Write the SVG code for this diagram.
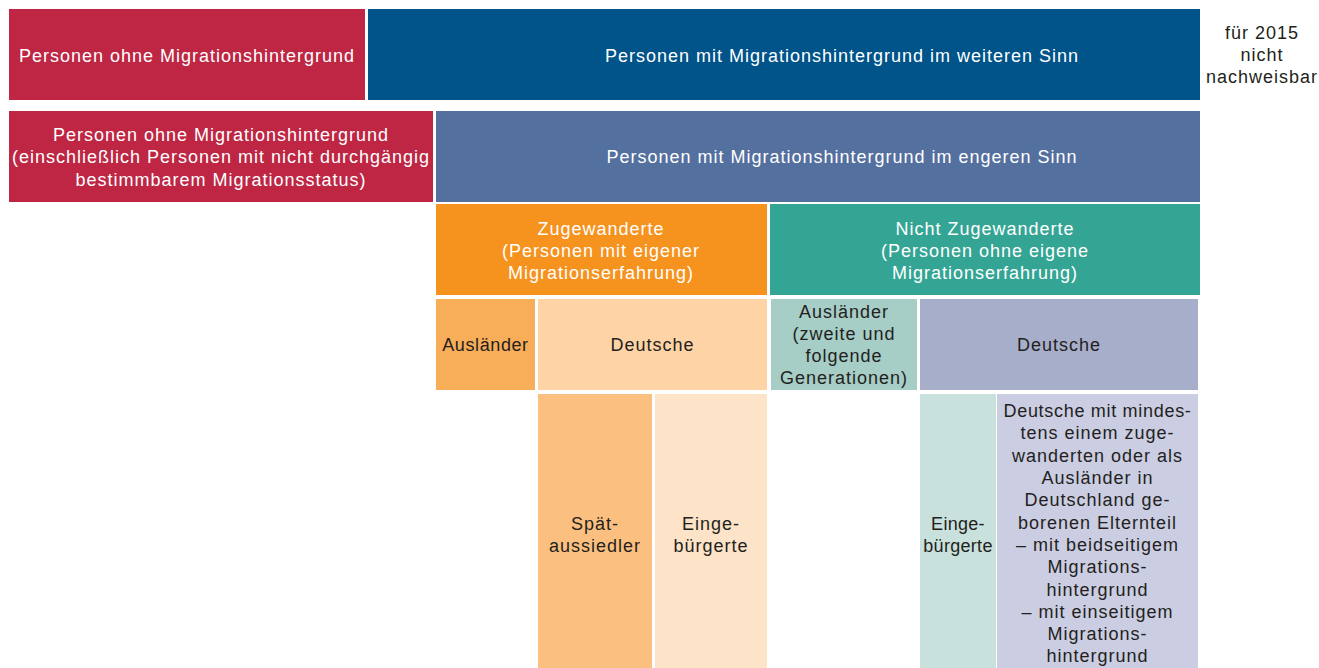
<svg xmlns="http://www.w3.org/2000/svg" width="1319" height="668" viewBox="0 0 1319 668">
<style>
text{font-family:"Liberation Sans",Arial,sans-serif;font-size:18px;letter-spacing:1px;text-anchor:middle}
.w{fill:#ffffff}
.d{fill:#231f20}
</style>
<rect x="0" y="0" width="1319" height="668" fill="#ffffff"/>
<g id="n-ohne1"><rect x="9" y="9" width="356" height="91" fill="#be2644"/><text class="w" x="187" y="62">Personen ohne Migrationshintergrund</text></g>
<g id="n-weiter"><rect x="368" y="9" width="832" height="91" fill="#00548a"/><text class="w" x="842" y="62">Personen mit Migrationshintergrund im weiteren Sinn</text></g>
<g id="n-note"><text class="d" x="1262" y="39">für 2015</text><text class="d" x="1262" y="61">nicht</text><text class="d" x="1262" y="83">nachweisbar</text></g>
<g id="n-ohne2"><rect x="9" y="111" width="424" height="91" fill="#be2644"/><text class="w" x="221" y="141">Personen ohne Migrationshintergrund</text><text class="w" x="221" y="163">(einschließlich Personen mit nicht durchgängig</text><text class="w" x="221" y="186">bestimmbarem Migrationsstatus)</text></g>
<g id="n-enger"><rect x="436" y="111" width="764" height="91" fill="#54709f"/><text class="w" x="842" y="163">Personen mit Migrationshintergrund im engeren Sinn</text></g>
<g id="n-zuge"><rect x="436" y="204" width="331" height="91" fill="#f6921e"/><text class="w" x="601" y="235">Zugewanderte</text><text class="w" x="601" y="257">(Personen mit eigener</text><text class="w" x="601" y="279">Migrationserfahrung)</text></g>
<g id="n-nichtzuge"><rect x="770" y="204" width="430" height="91" fill="#34a594"/><text class="w" x="985" y="235">Nicht Zugewanderte</text><text class="w" x="985" y="257">(Personen ohne eigene</text><text class="w" x="985" y="279">Migrationserfahrung)</text></g>
<g id="n-ausl1"><rect x="436" y="299" width="99" height="91" fill="#f8ad58"/><text class="d" x="485.5" y="351" style="letter-spacing:0.6px">Ausländer</text></g>
<g id="n-deu1"><rect x="538" y="299" width="229" height="91" fill="#fed3a5"/><text class="d" x="652.5" y="351">Deutsche</text></g>
<g id="n-ausl2"><rect x="771" y="299" width="146" height="91" fill="#a6cdc6"/><text class="d" x="844" y="318">Ausländer</text><text class="d" x="844" y="340">(zweite und</text><text class="d" x="844" y="362">folgende</text><text class="d" x="844" y="384">Generationen)</text></g>
<g id="n-deu2"><rect x="920" y="299" width="278" height="91" fill="#a7aeca"/><text class="d" x="1059" y="351">Deutsche</text></g>
<g id="n-spaet"><rect x="538" y="394" width="114" height="274" fill="#fbc07f"/><text class="d" x="595" y="530">Spät-</text><text class="d" x="595" y="552">aussiedler</text></g>
<g id="n-einge1"><rect x="655" y="394" width="112" height="274" fill="#fde3c7"/><text class="d" x="711" y="530">Einge-</text><text class="d" x="711" y="552">bürgerte</text></g>
<g id="n-einge2"><rect x="920" y="394" width="76" height="274" fill="#c9e1dc"/><text class="d" x="958" y="530" style="letter-spacing:0.3px">Einge-</text><text class="d" x="958" y="552" style="letter-spacing:0.3px">bürgerte</text></g>
<g id="n-deu3"><rect x="997" y="394" width="201" height="274" fill="#cbcde2"/>
<text class="d" x="1097.5" y="417" style="letter-spacing:0.7px">Deutsche mit mindes-</text>
<text class="d" x="1097.5" y="439">tens einem zuge-</text>
<text class="d" x="1097.5" y="462">wanderten oder als</text>
<text class="d" x="1097.5" y="484">Ausländer in</text>
<text class="d" x="1097.5" y="506">Deutschland ge-</text>
<text class="d" x="1097.5" y="529">borenen Elternteil</text>
<text class="d" x="1097.5" y="551">– mit beidseitigem</text>
<text class="d" x="1097.5" y="573">Migrations-</text>
<text class="d" x="1097.5" y="596">hintergrund</text>
<text class="d" x="1097.5" y="618">– mit einseitigem</text>
<text class="d" x="1097.5" y="640">Migrations-</text>
<text class="d" x="1097.5" y="662">hintergrund</text>
</g>
<g id="connectors"></g>
</svg>
